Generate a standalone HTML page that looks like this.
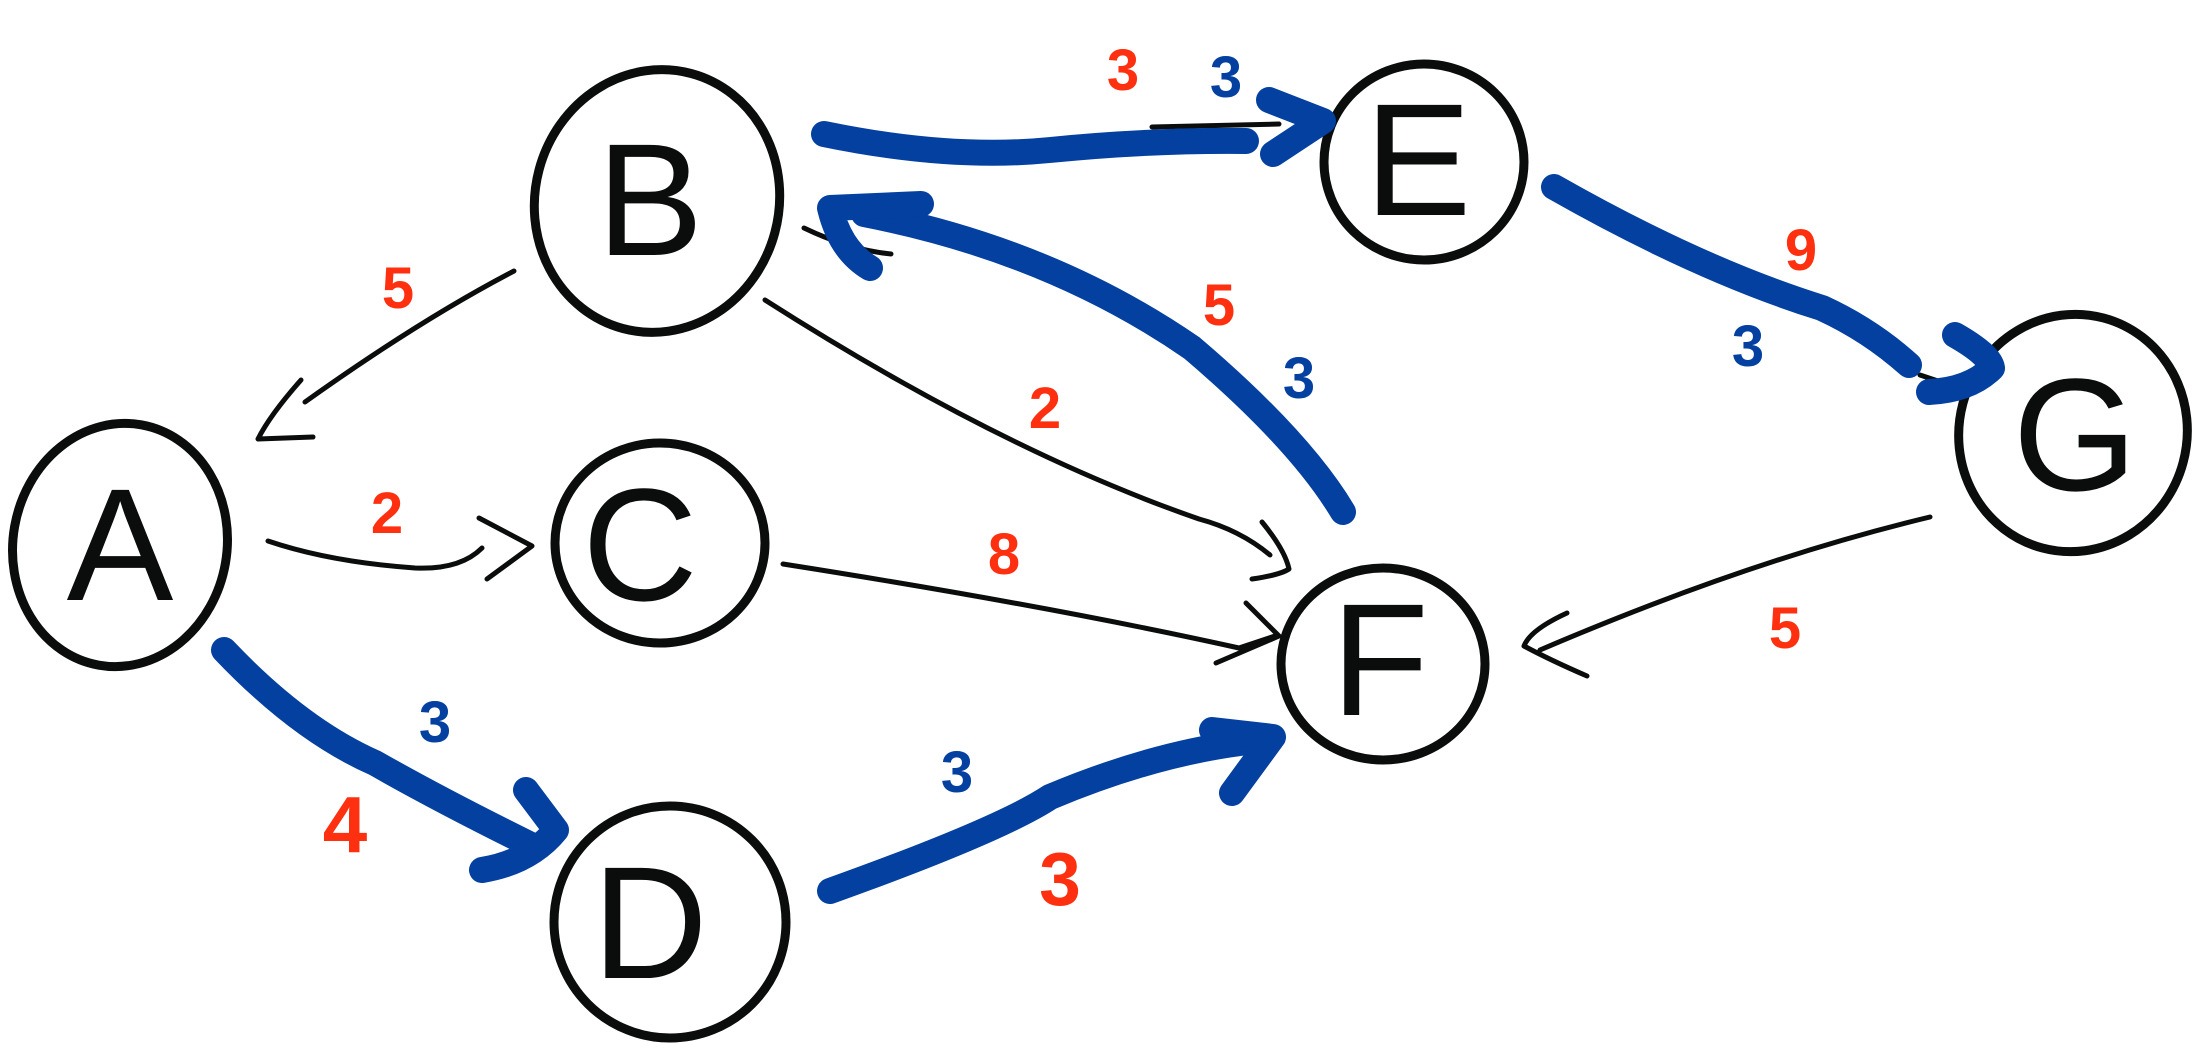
<!DOCTYPE html>
<html><head><meta charset="utf-8"><style>
html,body{margin:0;padding:0;background:#fff;}
svg{display:block}
text{font-family:"Liberation Sans",sans-serif;}
</style></head><body>
<svg width="2202" height="1050" viewBox="0 0 2202 1050" xmlns="http://www.w3.org/2000/svg">
<g fill="none" stroke="#0b0d0d" stroke-width="9" stroke-linecap="round">
<ellipse cx="120" cy="545" rx="107" ry="122" transform="rotate(10 120 545)"/>
<ellipse cx="657" cy="201" rx="122" ry="132" transform="rotate(15 657 201)"/>
<ellipse cx="660" cy="543" rx="105" ry="100"/>
<ellipse cx="670" cy="922" rx="116" ry="116"/>
<ellipse cx="1424" cy="162" rx="100" ry="98"/>
<ellipse cx="1383" cy="664" rx="102" ry="96"/>
<ellipse cx="2073" cy="433" rx="114" ry="119" transform="rotate(15 2073 433)"/>
</g>
<g fill="none" stroke="#0b0d0d" stroke-width="5" stroke-linecap="round" stroke-linejoin="round">
<path d="M514 271 Q420 320 305 402"/>
<path d="M301 380 Q270 415 258 439 L313 437"/>
<path d="M268 541 Q330 562 415 568 Q460 570 482 548"/>
<path d="M479 518 L532 546 L487 579"/>
<path d="M765 300 Q1000 450 1199 519 Q1240 530 1270 555"/>
<path d="M1262 522 Q1285 550 1289 569 Q1280 575 1252 579"/>
<path d="M783 564 Q1050 606 1239 648 L1275 636"/>
<path d="M1246 603 L1279 636 L1216 663"/>
<path d="M1930 517 Q1750 560 1540 650"/>
<path d="M1567 613 Q1530 630 1524 646 Q1550 660 1587 676"/>
<path d="M817 141 L830 145"/>
<path d="M1152 127 L1279 124"/>
<path d="M804 228 Q850 250 891 254"/>
<path d="M1920 375 L1950 385"/>
</g>
<g fill="none" stroke="#0340a0" stroke-width="26" stroke-linecap="round" stroke-linejoin="round">
<path d="M824 134 Q950 160 1050 150 Q1150 140 1246 141"/>
<path d="M1269 100 L1323 121 L1273 154"/>
<path d="M1343 512 Q1300 440 1192 348 Q1050 250 864 214"/>
<path d="M921 204 L830 208 Q840 250 870 268"/>
<path d="M1554 187 Q1700 270 1822 308 Q1870 330 1909 365"/>
<path d="M1955 335 Q1990 355 1992 368 Q1970 390 1929 392"/>
<path d="M224 650 Q300 730 375 763 Q440 800 529 844"/>
<path d="M526 790 L556 830 Q530 862 482 870"/>
<path d="M830 891 Q1000 830 1050 797 Q1150 755 1240 743"/>
<path d="M1212 730 L1273 737 L1232 793"/>
</g>
<g font-size="160" fill="#0b0d0d" text-anchor="middle">
<text x="120" y="600">A</text>
<text x="650" y="255">B</text>
<text x="640" y="600">C</text>
<text x="650" y="978">D</text>
<text x="1418" y="215">E</text>
<text x="1380" y="715">F</text>
<text x="2075" y="490">G</text>
</g>
<g font-size="58" text-anchor="middle" font-weight="bold">
<text x="398" y="308" fill="#ff3010">5</text>
<text x="387" y="533" fill="#ff3010">2</text>
<text x="1123" y="90" fill="#ff3010">3</text>
<text x="1226" y="97" fill="#0340a0">3</text>
<text x="1219" y="325" fill="#ff3010">5</text>
<text x="1299" y="398" fill="#0340a0">3</text>
<text x="1045" y="428" fill="#ff3010">2</text>
<text x="1004" y="574" fill="#ff3010">8</text>
<text x="1801" y="270" fill="#ff3010">9</text>
<text x="1748" y="366" fill="#0340a0">3</text>
<text x="1785" y="648" fill="#ff3010">5</text>
<text x="435" y="742" fill="#0340a0">3</text>
<text x="345" y="852" font-size="80" fill="#ff3010">4</text>
<text x="957" y="792" fill="#0340a0">3</text>
<text x="1060" y="905" font-size="75" fill="#ff3010">3</text>
</g>
</svg>
</body></html>
